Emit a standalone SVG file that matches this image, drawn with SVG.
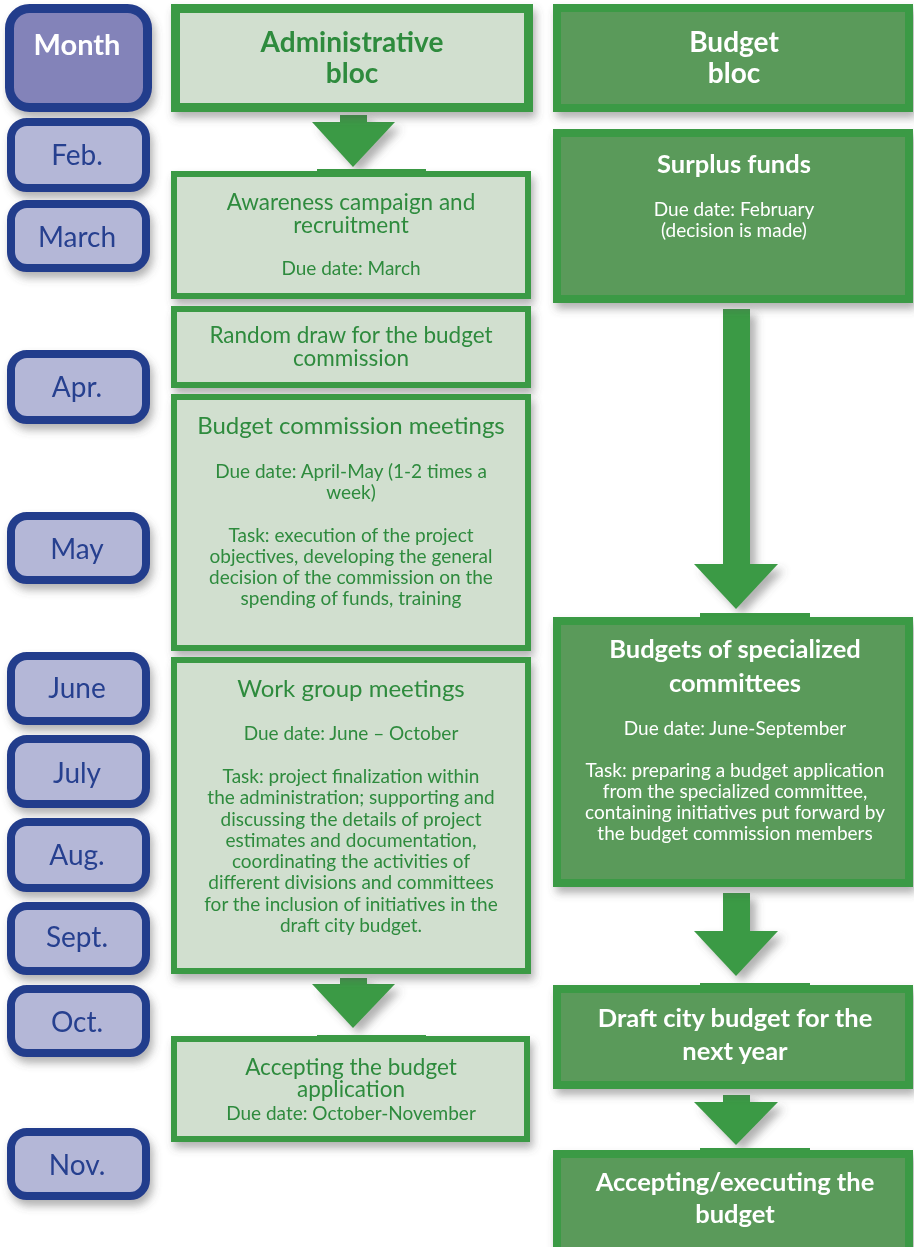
<svg xmlns="http://www.w3.org/2000/svg" width="914" height="1247" viewBox="0 0 914 1247">
<defs>
<filter id="sh" x="-10%" y="-10%" width="130%" height="140%">
<feDropShadow dx="3" dy="6" stdDeviation="4" flood-color="#555" flood-opacity="0.45"/>
</filter>
<filter id="ash" x="-30%" y="-10%" width="180%" height="140%">
<feDropShadow dx="6" dy="6" stdDeviation="4" flood-color="#555" flood-opacity="0.45"/>
</filter>
<style>
.pill{fill:#b4b7d7;stroke:#233d8c;stroke-width:8}
.mh{fill:#8383b9;stroke:#233d8c;stroke-width:9}
.ml{font-family:Lato,"Liberation Sans",sans-serif;font-size:28px;fill:#263f8f;text-anchor:middle}
.mt{font-family:Lato,"Liberation Sans",sans-serif;font-size:29px;font-weight:bold;fill:#fff;text-anchor:middle}
.ab{fill:#d1dfcf;stroke:#3a9a44;stroke-width:6}
.ah{fill:#d1dfcf;stroke:#3a9a44;stroke-width:9}
.bb{fill:#5a9a5a;stroke:#3a9a44;stroke-width:8}
.at{font-family:Lato,"Liberation Sans",sans-serif;font-size:24px;fill:#2e8b3e;text-anchor:middle}
.at2{font-family:Lato,"Liberation Sans",sans-serif;font-size:22.5px;fill:#2e8b3e;text-anchor:middle}
.ad{font-family:Lato,"Liberation Sans",sans-serif;font-size:19px;fill:#2e8b3e;text-anchor:middle}
.aht{font-family:Lato,"Liberation Sans",sans-serif;font-size:28px;font-weight:bold;fill:#2e8b3e;text-anchor:middle}
.bht{font-family:Lato,"Liberation Sans",sans-serif;font-size:28px;font-weight:bold;fill:#fff;text-anchor:middle}
.bt{font-family:Lato,"Liberation Sans",sans-serif;font-size:25.5px;font-weight:bold;fill:#fff;text-anchor:middle}
.bd{font-family:Lato,"Liberation Sans",sans-serif;font-size:19px;fill:#fff;text-anchor:middle}
.arr{fill:#3a9a44}
</style>
</defs>
<rect width="914" height="1247" fill="#fff"/>

<g id="months">
<g id="m-head" filter="url(#sh)"><rect class="mh" x="9.5" y="8.5" width="138" height="99" rx="20"/><text class="mt" x="77" y="55">Month</text></g>
<g id="m-feb" filter="url(#sh)"><rect class="pill" x="11" y="122" width="135" height="66" rx="16"/><text class="ml" x="77" y="165">Feb.</text></g>
<g id="m-mar" filter="url(#sh)"><rect class="pill" x="11" y="204" width="135" height="64" rx="16"/><text class="ml" x="77" y="247">March</text></g>
<g id="m-apr" filter="url(#sh)"><rect class="pill" x="11" y="354" width="135" height="66" rx="16"/><text class="ml" x="77" y="397">Apr.</text></g>
<g id="m-may" filter="url(#sh)"><rect class="pill" x="11" y="516" width="135" height="64" rx="16"/><text class="ml" x="77" y="559">May</text></g>
<g id="m-jun" filter="url(#sh)"><rect class="pill" x="11" y="656" width="135" height="65" rx="16"/><text class="ml" x="77" y="698">June</text></g>
<g id="m-jul" filter="url(#sh)"><rect class="pill" x="11" y="739" width="135" height="65" rx="16"/><text class="ml" x="77" y="783">July</text></g>
<g id="m-aug" filter="url(#sh)"><rect class="pill" x="11" y="822" width="135" height="66" rx="16"/><text class="ml" x="77" y="865">Aug.</text></g>
<g id="m-sep" filter="url(#sh)"><rect class="pill" x="11" y="906" width="135" height="65" rx="16"/><text class="ml" x="77" y="947">Sept.</text></g>
<g id="m-oct" filter="url(#sh)"><rect class="pill" x="11" y="989" width="135" height="64" rx="16"/><text class="ml" x="77" y="1032">Oct.</text></g>
<g id="m-nov" filter="url(#sh)"><rect class="pill" x="11" y="1132" width="135" height="64" rx="16"/><text class="ml" x="77" y="1175">Nov.</text></g>
</g>

<g id="connectors">
<g filter="url(#ash)">
<rect class="arr" x="340" y="115" width="27" height="8"/><polygon class="arr" points="312,122 395,122 353,167"/>
</g>
<rect class="arr" x="317" y="169" width="109" height="6"/>
<g filter="url(#ash)">
<rect class="arr" x="340" y="978" width="27" height="7"/><polygon class="arr" points="312,984 395,984 353,1028"/>
</g>
<rect class="arr" x="317" y="1035" width="109" height="6"/>
<g filter="url(#ash)">
<rect class="arr" x="723" y="309" width="27" height="256"/><polygon class="arr" points="694,564 778,564 736,609"/>
</g>
<rect class="arr" x="700" y="613" width="110" height="6"/>
<g filter="url(#ash)">
<rect class="arr" x="723" y="893" width="27" height="39"/><polygon class="arr" points="694,931 778,931 736,976"/>
</g>
<rect class="arr" x="700" y="983" width="110" height="6"/>
<g filter="url(#ash)">
<rect class="arr" x="723" y="1095" width="27" height="8"/><polygon class="arr" points="694,1102 778,1102 736,1145"/>
</g>
<rect class="arr" x="700" y="1148" width="110" height="6"/>
</g>

<g id="admin-head" filter="url(#sh)">
<rect class="ah" x="175.5" y="8.5" width="353" height="99"/>
<text class="aht" x="352" y="52">Administrative</text>
<text class="aht" x="352" y="83">bloc</text>
</g>
<g id="budget-head" filter="url(#sh)">
<rect class="bb" x="557" y="8" width="352" height="100"/>
<text class="bht" x="734" y="52">Budget</text>
<text class="bht" x="734" y="83">bloc</text>
</g>

<g id="awareness" filter="url(#sh)">
<rect class="ab" x="174" y="174" width="354" height="122"/>
<text class="at2" x="351" y="210">Awareness campaign and</text>
<text class="at2" x="351" y="233">recruitment</text>
<text class="ad" x="351" y="275">Due date: March</text>
</g>
<g id="random" filter="url(#sh)">
<rect class="ab" x="174" y="309" width="354" height="76"/>
<text class="at2" x="351" y="343">Random draw for the budget</text>
<text class="at2" x="351" y="366">commission</text>
</g>
<g id="commission" filter="url(#sh)">
<rect class="ab" x="174" y="397" width="354" height="251"/>
<text class="at" x="351" y="434">Budget commission meetings</text>
<text class="ad" x="351" y="478">Due date: April-May (1-2 times a</text>
<text class="ad" x="351" y="499">week)</text>
<text class="ad" x="351" y="542">Task: execution of the project</text>
<text class="ad" x="351" y="563">objectives, developing the general</text>
<text class="ad" x="351" y="584">decision of the commission on the</text>
<text class="ad" x="351" y="605">spending of funds, training</text>
</g>
<g id="workgroup" filter="url(#sh)">
<rect class="ab" x="174" y="660" width="354" height="311"/>
<text class="at" x="351" y="697">Work group meetings</text>
<text class="ad" x="351" y="740">Due date: June – October</text>
<text class="ad" x="351" y="783">Task: project finalization within</text>
<text class="ad" x="351" y="804">the administration; supporting and</text>
<text class="ad" x="351" y="826">discussing the details of project</text>
<text class="ad" x="351" y="847">estimates and documentation,</text>
<text class="ad" x="351" y="868">coordinating the activities of</text>
<text class="ad" x="351" y="889">different divisions and committees</text>
<text class="ad" x="351" y="911">for the inclusion of initiatives in the</text>
<text class="ad" x="351" y="932">draft city budget.</text>
</g>
<g id="accepting" filter="url(#sh)">
<rect class="ab" x="174" y="1039" width="353" height="100"/>
<text class="at2" x="351" y="1075">Accepting the budget</text>
<text class="at2" x="351" y="1097">application</text>
<text class="ad" x="351" y="1120">Due date: October-November</text>
</g>

<g id="surplus" filter="url(#sh)">
<rect class="bb" x="557" y="133" width="352" height="166"/>
<text class="bt" x="734" y="173">Surplus funds</text>
<text class="bd" x="734" y="216">Due date: February</text>
<text class="bd" x="734" y="237">(decision is made)</text>
</g>
<g id="committees" filter="url(#sh)">
<rect class="bb" x="557" y="621" width="352" height="262"/>
<text class="bt" x="735" y="658">Budgets of specialized</text>
<text class="bt" x="735" y="692">committees</text>
<text class="bd" x="735" y="735">Due date: June-September</text>
<text class="bd" x="735" y="777">Task: preparing a budget application</text>
<text class="bd" x="735" y="798">from the specialized committee,</text>
<text class="bd" x="735" y="819">containing initiatives put forward by</text>
<text class="bd" x="735" y="840">the budget commission members</text>
</g>
<g id="draft" filter="url(#sh)">
<rect class="bb" x="557" y="989" width="352" height="96"/>
<text class="bt" x="735" y="1027">Draft city budget for the</text>
<text class="bt" x="735" y="1060">next year</text>
</g>
<g id="execute" filter="url(#sh)">
<rect class="bb" x="557" y="1154" width="352" height="120"/>
<text class="bt" x="735" y="1191">Accepting/executing the</text>
<text class="bt" x="735" y="1223">budget</text>
</g>
</svg>
